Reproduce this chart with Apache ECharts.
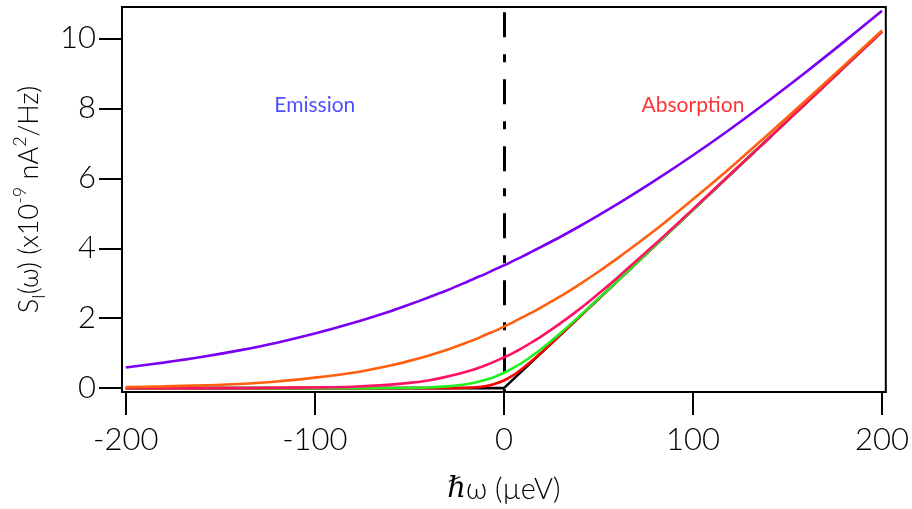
<!DOCTYPE html>
<html>
<head>
<meta charset="utf-8">
<script src="https://cdn.jsdelivr.net/npm/echarts@6/dist/echarts.min.js"></script>
<style>html,body{margin:0;padding:0;background:#fff}#c{width:912px;height:509px}</style>
</head>
<body>
<div id="c"></div>
<script>
// x positions (µeV) sampled
const xs = [-200,-180,-160,-140,-120,-100,-80,-60,-50,-40,-30,-20,-15,-10,-5,0,5,10,15,20,30,40,50,60,80,100,120,140,160,180,200];
// S_I values (x10^-9 nA^2/Hz)
const purple = [0.59,0.73,0.89,1.08,1.30,1.56,1.86,2.20,2.39,2.59,2.80,3.03,3.15,3.26,3.39,3.51,3.64,3.77,3.91,4.05,4.33,4.63,4.94,5.26,5.94,6.66,7.42,8.22,9.05,9.91,10.79];
const orange = [0.03,0.05,0.08,0.12,0.19,0.30,0.44,0.65,0.78,0.93,1.10,1.30,1.40,1.52,1.63,1.76,1.89,2.03,2.17,2.32,2.63,2.97,3.33,3.71,4.52,5.40,6.31,7.27,8.24,9.23,10.23];
const pink   = [0.00,0.00,0.00,0.00,0.01,0.02,0.04,0.10,0.15,0.22,0.33,0.47,0.55,0.65,0.76,0.88,1.01,1.16,1.32,1.49,1.86,2.26,2.70,3.16,4.12,5.12,6.13,7.14,8.16,9.18,10.20];
const green  = [0,0,0,0,0,0,0.00,0.003,0.008,0.02,0.05,0.11,0.16,0.23,0.32,0.44,0.58,0.74,0.93,1.13,1.58,2.06,2.56,3.06,4.08,5.10,6.12,7.14,8.16,9.18,10.20];
const red    = [0,0,0,0,0,0,0,0,0,0,0.001,0.01,0.024,0.056,0.12,0.22,0.37,0.57,0.79,1.03,1.53,2.04,2.55,3.06,4.08,5.10,6.12,7.14,8.16,9.18,10.20];
// T = 0 curve
const blackX = [-200,0,200];
const blackY = [0,0,10.2];

const xTicks = [-200,-100,0,100,200];
const yTicks = [0,2,4,6,8,10];

const pair = (xa, ya) => xa.map((x,i)=>[x, ya[i]]);
const font = 'Lato, "DejaVu Sans", sans-serif';

const chart = echarts.init(document.getElementById('c'), null, {renderer:'canvas'});
const lineS = (name, data, color, z) => ({
  name, type:'line', data, showSymbol:false, symbol:'none', smooth:0.3, z,
  lineStyle:{color, width:2.6}, animation:false
});
chart.setOption({
  animation:false,
  grid:{left:122, right:26, top:7, bottom:116, show:true, borderColor:'#000', borderWidth:2},
  xAxis:{
    type:'value', min:-202, max:202,
    axisLine:{show:true, onZero:false, lineStyle:{color:'#000', width:2}},
    axisTick:{show:true, inside:false, length:23, lineStyle:{color:'#000', width:2}, customValues:xTicks},
    axisLabel:{color:'#000', fontSize:31, fontWeight:300, fontFamily:font, margin:32, customValues:xTicks},
    splitLine:{show:false},
    name:'{i|ℏ}ω (µeV)', nameLocation:'middle', nameGap:83,
    nameTextStyle:{color:'#000', fontSize:29, fontWeight:300, fontFamily:font, rich:{i:{fontStyle:'italic', fontSize:29, fontFamily:'"DejaVu Serif", serif'}}}
  },
  yAxis:{
    type:'value', min:-0.11, max:10.9,
    axisLine:{show:true, onZero:false, lineStyle:{color:'#000', width:2}},
    axisTick:{show:true, inside:false, length:23, lineStyle:{color:'#000', width:2}, customValues:yTicks},
    axisLabel:{color:'#000', fontSize:31, fontWeight:300, fontFamily:font, margin:26, customValues:yTicks},
    splitLine:{show:false},
    name:'S{sub|I}(ω) (x10{sup|-9} nA{sup|2}/Hz)', nameLocation:'middle', nameGap:74, nameRotate:90,
    nameTextStyle:{color:'#000', fontSize:27, fontWeight:300, fontFamily:font,
      rich:{sub:{fontSize:18, fontWeight:300, fontFamily:font, verticalAlign:'bottom', padding:[17,0,0,0]},
            sup:{fontSize:18, fontWeight:300, fontFamily:font, verticalAlign:'top', padding:[0,0,19,0]}}}
  },
  series:[
    {
      name:'black', type:'line', data:pair(blackX, blackY), symbol:'none', z:3,
      lineStyle:{color:'#000', width:2.6},
      markLine:{silent:true, symbol:'none', label:{show:false},
        lineStyle:{color:'#000', width:3, type:[25,17,8,17]},
        data:[[{coord:[0,10.75]},{coord:[0,-0.11]}]]}
    },
    lineS('red', pair(xs, red), '#ff0000', 4),
    lineS('green', pair(xs, green), '#22ee22', 5),
    lineS('pink', pair(xs, pink), '#ff1166', 6),
    lineS('orange', pair(xs, orange), '#ff6010', 7),
    lineS('purple', pair(xs, purple), '#7a00f5', 8),
    {type:'scatter', symbolSize:0, data:[[-100,8.1]], z:10, silent:true,
      label:{show:true, position:'inside', formatter:'Emission', color:'#1f1fff', fontSize:21, fontFamily:font}},
    {type:'scatter', symbolSize:0, data:[[100,8.1]], z:10, silent:true,
      label:{show:true, position:'inside', formatter:'Absorption', color:'#ff0000', fontSize:21, fontFamily:font}}
  ]
});
</script>
</body>
</html>
